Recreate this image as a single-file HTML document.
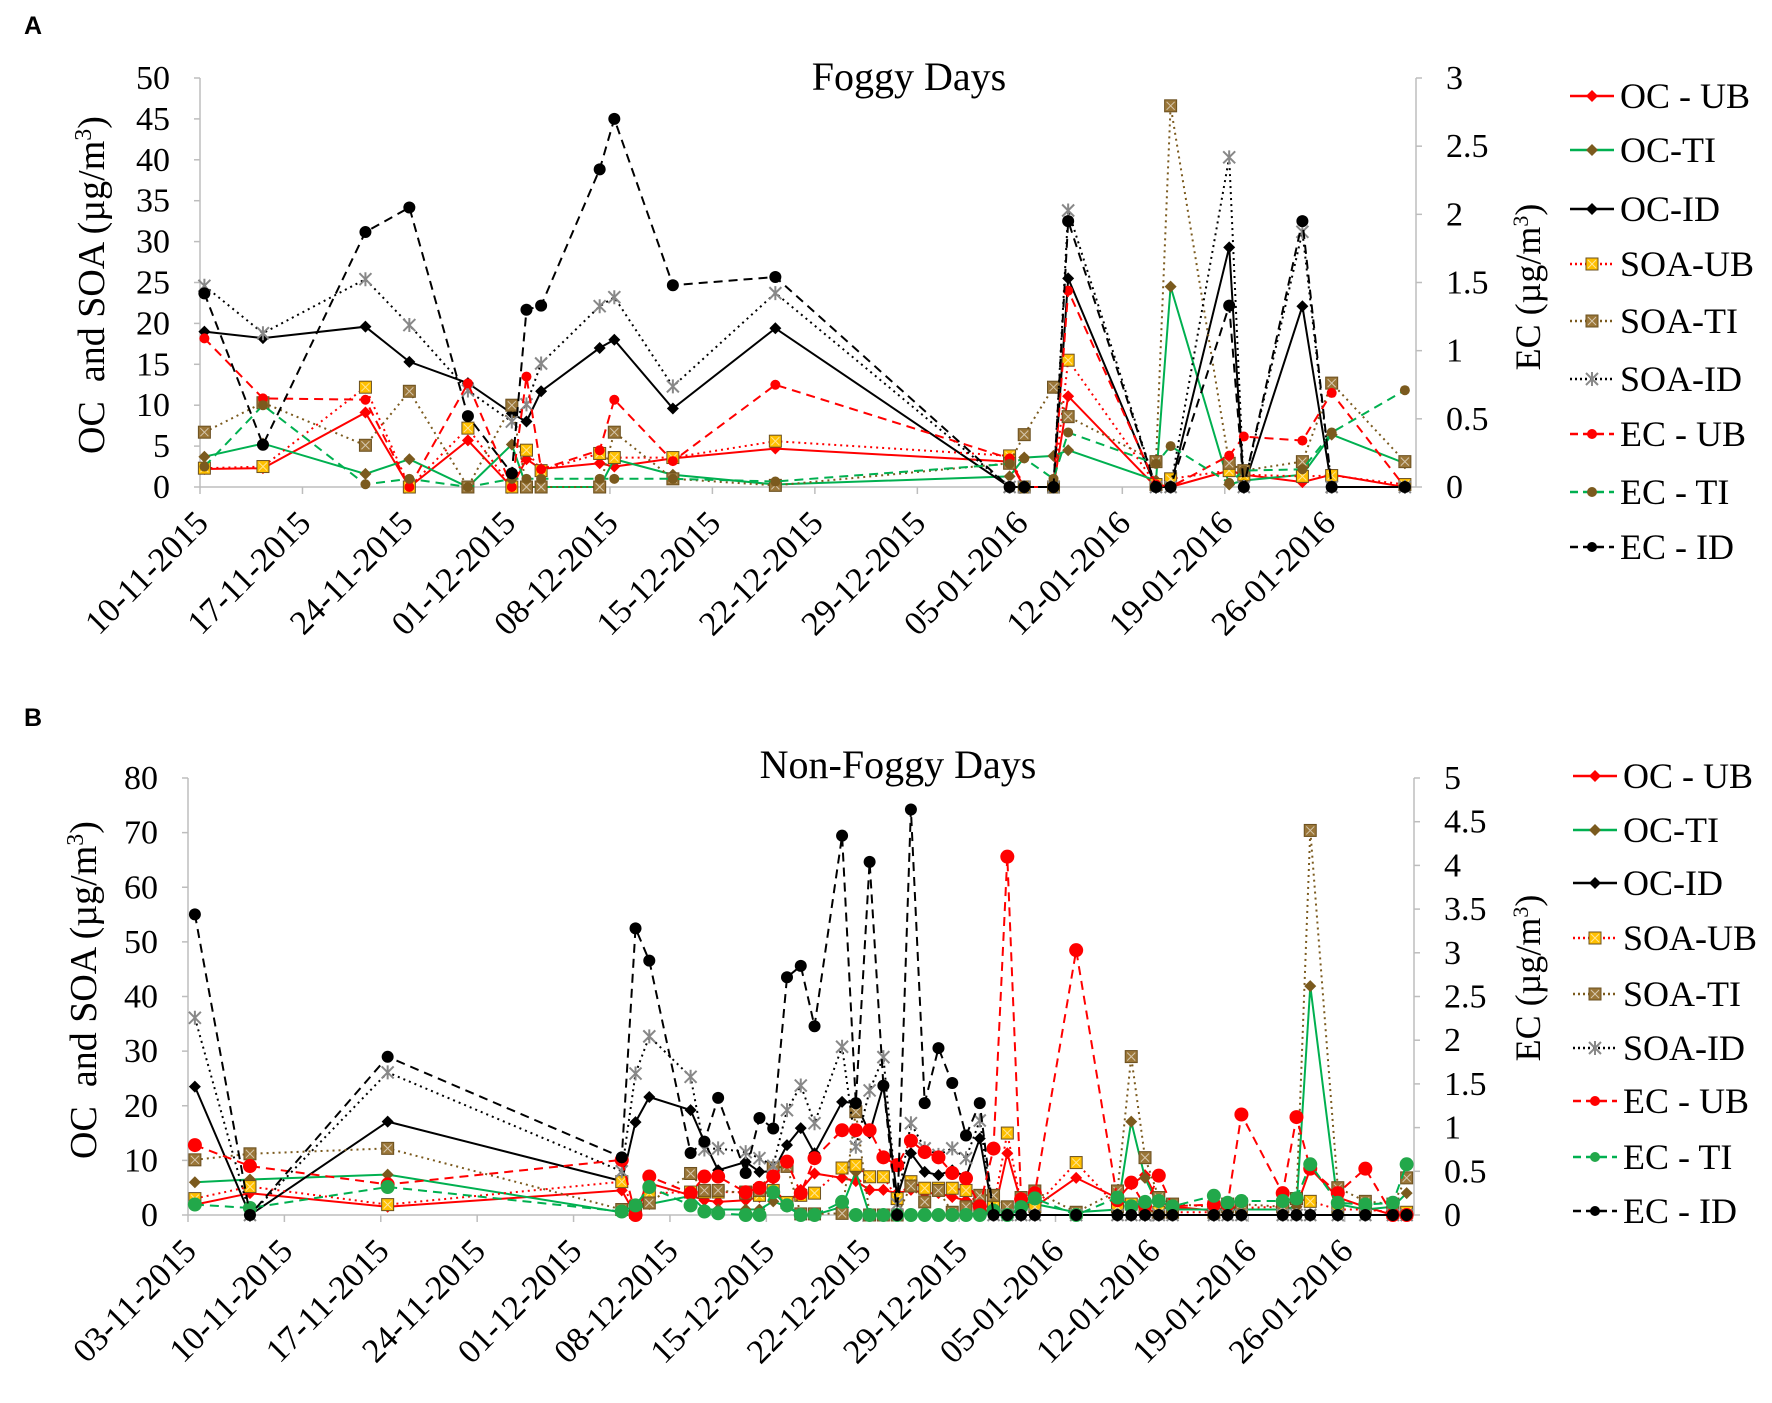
<!DOCTYPE html>
<html><head><meta charset="utf-8"><style>
body{margin:0;background:#fff}
svg{display:block;font-family:"Liberation Serif",serif}
</style></head><body>
<svg id="fig" width="1772" height="1403" viewBox="0 0 1772 1403" xmlns="http://www.w3.org/2000/svg">
<text x="24" y="34" font-family="Liberation Sans, sans-serif" font-weight="bold" font-size="25">A</text>
<text x="24" y="726" font-family="Liberation Sans, sans-serif" font-weight="bold" font-size="25">B</text>
</svg>
<script>
// ---- Panel A data (Foggy days), day index from 10-11-2015 ----
const aDays=[0,4,11,14,18,21,22,23,27,28,32,39,55,56,58,59,65,66,70,71,75,77,82];
const aOCUB=[2.2,2.3,9.1,0,5.7,0,3.4,2.2,2.9,2.5,3.5,4.7,3.1,0,0,11.1,0,0,2,1.5,0.6,1.5,0];
const aOCTI=[3.7,5.3,1.6,3.4,0,5.2,0,0,0,3.4,1.5,0.3,1.3,3.6,3.8,4.5,0.8,24.5,0.3,0.8,1.5,6.4,2.9];
const aOCID=[19.0,18.2,19.6,15.3,12.7,9.0,8.0,11.7,17.0,18.0,9.6,19.4,0,0,0,25.5,0,0,29.3,0,22.1,0,0];
const aSOAUB=[2.3,2.5,12.2,0,7.2,0,4.5,2.0,4.1,3.6,3.6,5.6,3.8,0,0,15.5,0.3,1,2,1.5,1.3,1.4,0.3];
const aSOATI=[6.7,10.3,5.1,11.7,0,10,0,0,0,6.7,1,0.2,2.9,6.4,12.2,8.6,3.1,46.6,2.9,2,3.1,12.7,3.1];
const aSOAID=[24.6,18.8,25.4,19.8,11.8,8.0,10.1,15.1,22.1,23.2,12.3,23.7,0,0,0,33.8,0,0,40.3,0,31.2,0,0];
const aECUB=[1.09,0.65,0.64,0,0.76,0,0.81,0.13,0.27,0.64,0.19,0.75,0.21,0,0,1.44,0.02,0,0.23,0.37,0.34,0.69,0];
const aECTI=[0.15,0.6,0.02,0.06,0,0.06,0.06,0.06,0.06,0.06,0.06,0.04,0.17,0.21,0.06,0.4,0.17,0.3,0.03,0.12,0.13,0.4,0.71];
const aECID=[1.42,0.31,1.87,2.05,0.52,0.10,1.30,1.33,2.33,2.70,1.48,1.54,0,0,0,1.95,0,0,1.33,0,1.95,0,0];
const aDateLabels=["10-11-2015","17-11-2015","24-11-2015","01-12-2015","08-12-2015","15-12-2015","22-12-2015","29-12-2015","05-01-2016","12-01-2016","19-01-2016","26-01-2016"];
const aLeftTicks=[0,5,10,15,20,25,30,35,40,45,50];
const aRightTicks=["0","0.5","1","1.5","2","2.5","3"];

// ---- Panel B data (Non-foggy days), day index from 03-11-2015 ----
const bDays=[0,4,14,31,32,33,36,37,38,40,41,42,43,44,45,47,48,49,50,51,52,53,54,55,56,57,58,59,60,61,64,67,68,69,70,71,74,75,76,79,80,81,83,85,87,88];
const bOCUB=[1.9,4,1.5,4.5,0,5.8,3.6,2.7,2.4,2.7,3.3,4.9,2.1,4.6,7.6,6.8,6.2,4.6,4.6,4.0,4.6,4.0,4.0,3.3,2.7,1.5,0,11.3,2.3,1.5,6.8,3.1,5.6,7.3,2.3,1.5,0.8,1.5,1,1,1.5,8.5,3.2,1.5,0,0];
const bOCTI=[6.0,6.5,7.4,0.5,1,2,3.5,1,1,1,1,2.5,1.5,0,0,1.5,7.9,0,0,0,0,0,0,0,0,0.5,0,0,1,2,0.5,1,17.1,6.8,1.5,1,1,1,1,1,1.5,41.9,2,1,1.5,4.0];
const bOCID=[23.5,0,17.1,6.2,17.0,21.6,19.2,13.4,8.2,9.7,7.9,8,12.8,15.9,11.3,20.7,20.5,15,23.7,3.3,11.3,7.9,7.3,8.2,7.0,14.0,0,0,0,0,0,0,0,0,0,0,0,0,0,0,0,0,0,0,0,0];
const bSOAUB=[3.0,5.2,1.9,6.1,0.5,4,4.2,4.2,4.2,4.2,3.6,4.5,2.3,3.6,4,8.6,9.1,7.0,7.0,3.0,6.1,4.9,4.9,4.9,4.5,1.5,1.5,15.0,2,1.5,9.6,1.5,2,1,0.5,0.5,0.5,1.5,1.3,1.5,3,2.5,1,1,0.5,0.5];
const bSOATI=[10.1,11.2,12.2,1.0,1.4,2.2,7.6,4.5,4.5,4,4.5,8.6,8.9,0.2,0.2,0.3,18.9,0,0,0,5.3,2.4,4.5,0.5,1.5,3.6,3.6,1.5,3.2,4.4,0.5,4.4,29.0,10.5,3.2,2,1.5,2,2,1.5,3,70.4,5,2.5,2,6.8];
const bSOAID=[36.1,0,26.1,8,25.9,32.7,25.3,12,12.2,11.5,10.4,9,19.2,23.7,16.8,30.8,12.5,22.8,28.9,2,16.8,12.2,11,12.2,10.4,17.3,0,0,0,0,0,0,0,0,0,0,0,0,0,0,0,0,0,0,0,0];
const bECUB=[0.80,0.56,0.35,0.63,0,0.44,0.25,0.44,0.44,0.26,0.31,0.44,0.61,0.25,0.65,0.97,0.97,0.97,0.66,0.57,0.85,0.72,0.66,0.48,0.42,0.1,0.76,4.10,0.18,0.25,3.03,0.17,0.37,0.1,0.45,0.1,0.12,0.12,1.15,0.25,1.12,0.53,0.25,0.53,0,0];
const bECTI=[0.12,0.08,0.32,0.04,0.11,0.32,0.11,0.04,0.02,0,0,0.26,0.11,0,0,0.15,0,0,0,0,0,0,0,0,0,0,0.05,0,0.09,0.19,0,0.2,0.1,0.15,0.16,0.1,0.22,0.14,0.16,0.16,0.19,0.58,0.14,0.12,0.14,0.58];
const bECID=[3.44,0,1.81,0.66,3.28,2.91,0.71,0.84,1.34,0.48,1.11,0.99,2.72,2.85,2.16,4.34,1.28,4.04,1.48,0,4.64,1.28,1.91,1.51,0.91,1.28,0,0,0,0,0,0,0,0,0,0,0,0,0,0,0,0,0,0,0,0];
const bDateLabels=["03-11-2015","10-11-2015","17-11-2015","24-11-2015","01-12-2015","08-12-2015","15-12-2015","22-12-2015","29-12-2015","05-01-2016","12-01-2016","19-01-2016","26-01-2016"];
const bLeftTicks=[0,10,20,30,40,50,60,70,80];
const bRightTicks=["0","0.5","1","1.5","2","2.5","3","3.5","4","4.5","5"];

const legendNames=["OC - UB","OC-TI","OC-ID","SOA-UB","SOA-TI","SOA-ID","EC - UB","EC - TI","EC - ID"];

const NS="http://www.w3.org/2000/svg";
const svg=document.getElementById('fig');
function mk(tag,attrs,parent){const e=document.createElementNS(NS,tag);for(const k in attrs)e.setAttribute(k,attrs[k]);(parent||svg).appendChild(e);return e;}

const RED="#ff0000",GREEN="#00b050",BROWN="#7b5a1e",GOLD="#ffc000",SQB="#9a7638";
function getStyles(ecTiFill){return [
 {stroke:RED,dash:"",mk:"diamond",fill:RED},
 {stroke:GREEN,dash:"",mk:"diamond",fill:BROWN},
 {stroke:"#000",dash:"",mk:"diamond",fill:"#000"},
 {stroke:RED,dash:"2,4",mk:"square",fill:GOLD},
 {stroke:BROWN,dash:"2,4",mk:"square",fill:SQB},
 {stroke:"#000",dash:"2,4",mk:"star",fill:"#888"},
 {stroke:RED,dash:"9,6",mk:"circle",fill:RED},
 {stroke:GREEN,dash:"9,6",mk:"circle",fill:ecTiFill},
 {stroke:"#000",dash:"9,6",mk:"circle",fill:"#000"}
];}

function marker(g,type,x,y,fill,s){
  let e;
  if(type==="diamond"){e=mk('polygon',{points:`${x},${y-s} ${x+s},${y} ${x},${y+s} ${x-s},${y}`,fill:fill},g);}
  else if(type==="circle"){e=mk('circle',{cx:x,cy:y,r:s,fill:fill},g);}
  else if(type==="square"){e=mk('rect',{x:x-s,y:y-s,width:2*s,height:2*s,fill:fill,stroke:"#6b5020","stroke-width":1},g);
    mk('path',{d:`M${x-s+2},${y-s+2}L${x+s-2},${y+s-2}M${x+s-2},${y-s+2}L${x-s+2},${y+s-2}`,stroke:"#fff","stroke-width":1,opacity:0.6},g);}
  else {e=mk('path',{d:`M${x-s},${y-s}L${x+s},${y+s}M${x+s},${y-s}L${x-s},${y+s}M${x},${y-s-1}L${x},${y+s+1}`,stroke:fill,"stroke-width":2,fill:"none"},g);}
  return e;
}

function drawPanel(p){
  const styles=getStyles(p.ecTiFill);
  const g=mk('g',{});
  
  
  const ppd=p.ppd;
  const xs=d=>p.x0+(d+p.off)*ppd;
  const yl=v=>p.yb-(v/p.lmax)*(p.yb-p.yt);
  const yr=v=>p.yb-(v/p.rmax)*(p.yb-p.yt);
  const ax=mk('line',{x1:p.x0,y1:p.yt,x2:p.x0,y2:p.yb,stroke:"#bdbdbd","stroke-width":1.5},g);
  
  const ax2=mk('line',{x1:p.x1,y1:p.yt,x2:p.x1,y2:p.yb,stroke:"#bdbdbd","stroke-width":1.5},g);
  
  const ax3=mk('line',{x1:p.x0,y1:p.yb,x2:p.x1,y2:p.yb,stroke:"#bdbdbd","stroke-width":1.5},g);
  
  p.leftTicks.forEach(v=>{const y=yl(v);
    mk('line',{x1:p.x0-6,y1:y,x2:p.x0,y2:y,stroke:"#bdbdbd","stroke-width":1.5},g);
    const t=mk('text',{x:p.x0-30,y:y+11,"text-anchor":"end","font-size":34},g);t.textContent=v;
    });
  p.rightTicks.forEach(v=>{const y=yr(parseFloat(v));
    mk('line',{x1:p.x1,y1:y,x2:p.x1+6,y2:y,stroke:"#bdbdbd","stroke-width":1.5},g);
    const t=mk('text',{x:p.x1+30,y:y+11,"font-size":34},g);t.textContent=v;
    });
  p.dates.forEach((lab,i)=>{const x=p.x0+i*7*ppd;
    mk('line',{x1:x,y1:p.yb,x2:x,y2:p.yb+7,stroke:"#bdbdbd","stroke-width":1.5},g);
    const t=mk('text',{x:x+10,y:p.yb+38,"text-anchor":"end","font-size":34,transform:`rotate(-45 ${x+10} ${p.yb+38})`},g);t.textContent=lab;
    });
  const tt=mk('text',{x:p.tx,y:p.ty,"text-anchor":"middle","font-size":40},g);tt.textContent=p.title;
  
  const lt=mk('text',{x:0,y:0,"text-anchor":"middle","font-size":38,transform:`translate(${p.lyx},${p.lyy}) rotate(-90)`},g);
  lt.innerHTML='OC&#160; and SOA (µg/m<tspan baseline-shift="super" font-size="24">3</tspan>)';
  
  const rt=mk('text',{x:0,y:0,"text-anchor":"middle","font-size":36,transform:`translate(${p.ryx},${p.ryy}) rotate(-90)`},g);
  rt.innerHTML='EC (µg/m<tspan baseline-shift="super" font-size="22">3</tspan>)';
  
  p.series.forEach((vals,si)=>{const st=styles[si];const sy=si>=6?yr:yl;
    const sg=mk('g',{},g);
    
    
    const pts=vals.map((v,i)=>xs(p.days[i]).toFixed(1)+','+sy(v).toFixed(1)).join(' ');
    const pl=mk('polyline',{points:pts,fill:"none",stroke:st.stroke,"stroke-width":p.lw,"stroke-dasharray":st.dash},sg);
    
    vals.forEach((v,i)=>{let s=p.ms;if(st.mk==="circle"&&si<8)s=p.cs;
      const m=marker(sg,st.mk,xs(p.days[i]),sy(v),st.fill,s);
      });
  });
  legendNames.forEach((n,i)=>{const st=styles[i];const y=p.legY[i];
    const lg=mk('g',{},g);
    
    
    mk('line',{x1:p.legX,y1:y,x2:p.legX+44,y2:y,stroke:st.stroke,"stroke-width":2.5,"stroke-dasharray":st.dash==="2,4"?"2,3":(st.dash?"8,5":"")},lg);
    marker(lg,st.mk,p.legX+22,y,st.fill,st.mk==="circle"?5:6);
    const t=mk('text',{x:p.legX+50,y:y+12,"font-size":36},lg);t.textContent=n;});
}

drawPanel({name:'panel-a-foggy',x0:200,x1:1416,yt:78,yb:487,ppd:14.64,off:0.3,lmax:50,rmax:3,
  leftTicks:aLeftTicks,rightTicks:aRightTicks,dates:aDateLabels,days:aDays,
  series:[aOCUB,aOCTI,aOCID,aSOAUB,aSOATI,aSOAID,aECUB,aECTI,aECID],
  title:'Foggy Days',tx:909,ty:90,lyx:104,lyy:285,ryx:1540,ryy:287,lw:2,ms:6,cs:5,ecTiFill:BROWN,
  legX:1570,legY:[96,150,209,264,321,379,434,492,547]});
drawPanel({name:'panel-b-non-foggy',x0:188,x1:1414,yt:778,yb:1215,ppd:13.77,off:0.5,lmax:80,rmax:5,
  leftTicks:bLeftTicks,rightTicks:bRightTicks,dates:bDateLabels,days:bDays,
  series:[bOCUB,bOCTI,bOCID,bSOAUB,bSOATI,bSOAID,bECUB,bECTI,bECID],
  title:'Non-Foggy Days',tx:898,ty:778,lyx:96,lyy:990,ryx:1540,ryy:978,lw:2,ms:6,cs:7,ecTiFill:"#22a84a",
  legX:1573,legY:[776,830,883,938,994,1048,1101,1157,1211]});
</script>
</body></html>
